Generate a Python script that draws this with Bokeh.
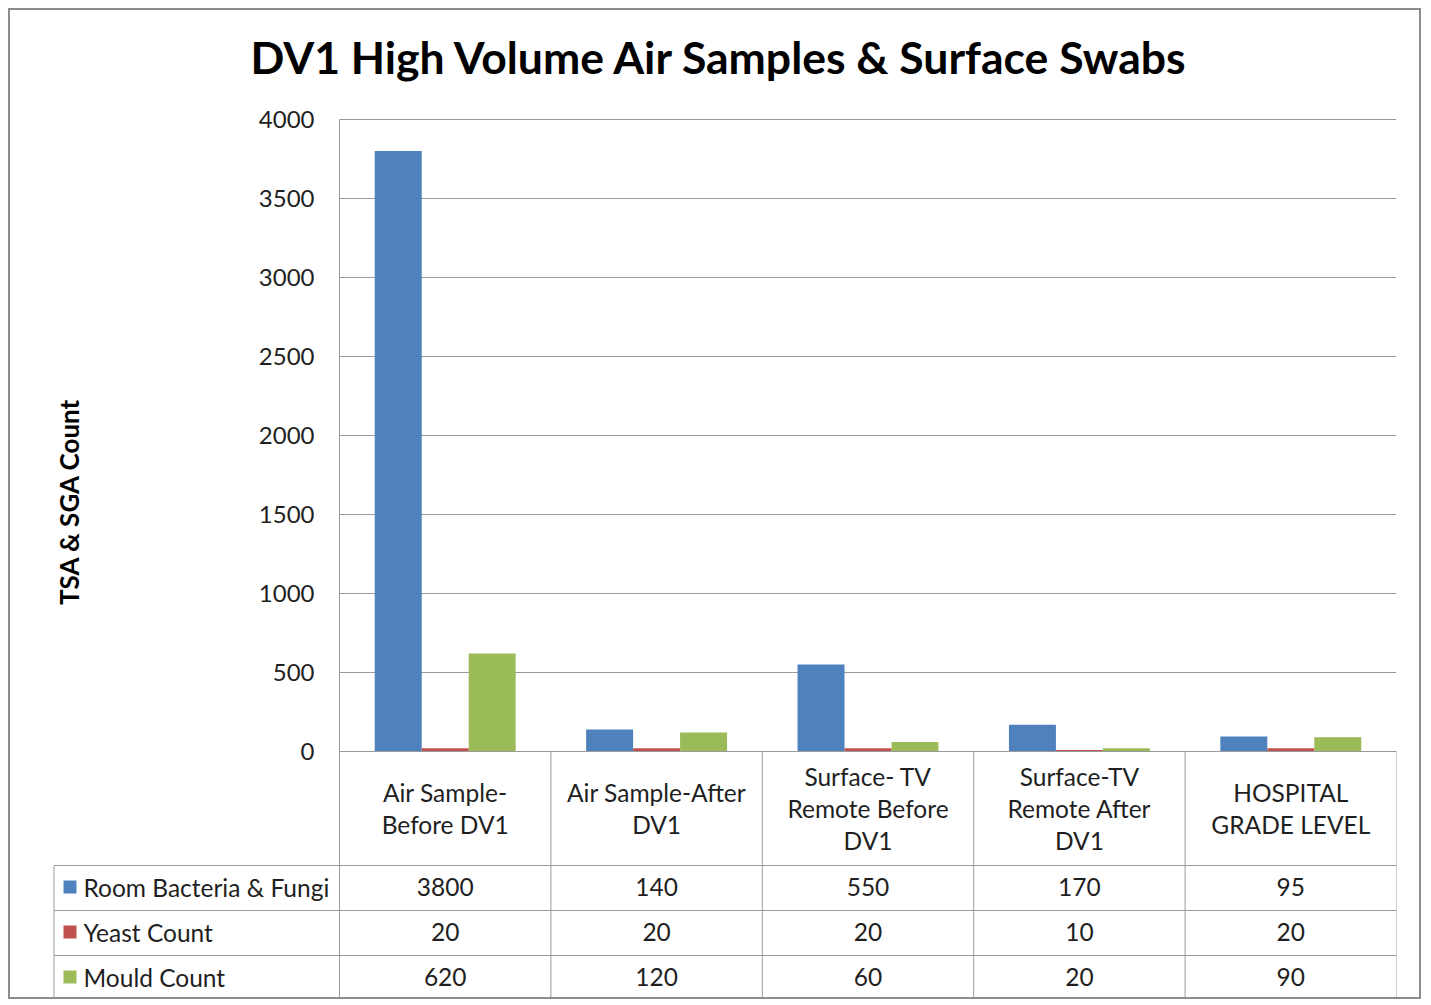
import numpy as np
from bokeh.plotting import figure
from bokeh.models import Range1d, FixedTicker, ColumnDataSource
from bokeh.transform import dodge
from bokeh.embed import file_html
from bokeh.resources import INLINE
from bokeh.core.properties import value

# ---------------- data ----------------
categories = ["Air Sample-\nBefore DV1", "Air Sample-After\nDV1",
              "Surface- TV\nRemote Before\nDV1", "Surface-TV\nRemote After\nDV1",
              "HOSPITAL\nGRADE LEVEL"]
series_names = ["Room Bacteria & Fungi", "Yeast Count", "Mould Count"]
bacteria = [3800, 140, 550, 170, 95]
yeast = [20, 20, 20, 10, 20]
mould = [620, 120, 60, 20, 90]
y_ticks = [0, 500, 1000, 1500, 2000, 2500, 3000, 3500, 4000]

# ---------------- style / layout ----------------
colors = ["#4F81BD", "#C0504D", "#9BBB59"]
FONT = "Lato"
TXT = "#1f1f1f"
GRID = "#9a9a9a"
TICK_FS = "24px"
TAB_FS = "24.5px"

n = len(categories)
series = [bacteria, yeast, mould]
x_pos = np.arange(n) + 0.5
src = ColumnDataSource(dict(x=x_pos, s0=bacteria, s1=yeast, s2=mould))

# pixel geometry of the reference (layout only)
Y0_PX, Y4000_PX = 751, 119
U = 4000.0 / (Y0_PX - Y4000_PX)      # value units per pixel
CAT_W = (1396 - 339) / n
FRAME_TOP_PX, FRAME_BOT_PX, FRAME_LEFT_PX = 100, 998, 18
HEAD, ROW = 114, 45


def ty(px):
    return -(px - Y0_PX) * U


def tx(px):
    return (px - 339) / CAT_W


p = figure(x_range=Range1d(tx(FRAME_LEFT_PX), n),
           y_range=Range1d(ty(FRAME_BOT_PX), ty(FRAME_TOP_PX)),
           width=1413, height=991, x_axis_location=None,
           min_border_left=FRAME_LEFT_PX - 10, min_border_right=27, min_border_bottom=3,
           min_border_top=FRAME_TOP_PX - 10,
           toolbar_location=None, output_backend="svg",
           title="DV1 High Volume Air Samples & Surface Swabs")
p.title.align = "left"
p.title.offset = 250 - FRAME_LEFT_PX
p.title.text_font = FONT
p.title.text_font_size = "44.5px"
p.title.text_font_style = "bold"
p.title.text_color = "#000000"
p.title.standoff = 35
p.outline_line_color = None
p.background_fill_color = "white"
p.border_fill_color = "white"
p.styles = {"border": "2px solid #8c8c8c", "margin": "8px 0 0 8px", "background": "white"}

# gridlines (only across the plot area)
p.xgrid.grid_line_color = None
p.ygrid.ticker = FixedTicker(ticks=y_ticks)
p.ygrid.grid_line_color = GRID
try:
    p.ygrid.cross_bounds = (0, n)
    p.ygrid.bounds = (0, 4000)
except AttributeError:
    p.ygrid.grid_line_color = None
    p.segment(x0=[0] * len(y_ticks), y0=y_ticks, x1=[n] * len(y_ticks), y1=y_ticks,
              line_color=GRID, line_width=1)

# bars
bw = 1 / 4.5
for k, name in enumerate(series_names):
    p.vbar(x=dodge("x", (k - 1) * bw), top=f"s{k}", bottom=0, width=bw,
           source=src, fill_color=colors[k], line_color=None)

# value axis
yax = p.yaxis[0]
yax.fixed_location = 0
yax.bounds = (ty(883), 4000)
yax.ticker = FixedTicker(ticks=y_ticks)
yax.axis_line_color = GRID
yax.major_tick_line_color = None
yax.minor_tick_line_color = None
yax.major_label_standoff = 19
yax.major_label_text_font = FONT
yax.major_label_text_font_size = TICK_FS
yax.major_label_text_color = TXT
yax.axis_label = "TSA & SGA Count"
yax.axis_label_text_font = FONT
yax.axis_label_text_font_style = "bold"
yax.axis_label_text_font_size = "26px"
yax.axis_label_text_color = "#000000"
yax.axis_label_standoff = 171

# ---------------- data table ----------------
tleft = tx(53.5)
hy = [0, ty(Y0_PX + HEAD), ty(Y0_PX + HEAD + ROW), ty(Y0_PX + HEAD + 2 * ROW), ty(997.5)]
hx0 = [0] + [tleft] * 4
p.segment(x0=hx0, y0=hy, x1=[n] * 5, y1=hy, line_color=GRID, line_width=1)
vx = list(range(n + 1)) + [tleft]
vy0 = [0] * (n + 1) + [hy[1]]
p.segment(x0=vx, y0=vy0, x1=vx, y1=[hy[-1]] * (n + 2), line_color=GRID, line_width=1)

rows_y = [ty(Y0_PX + HEAD + ROW * (i + 0.5) - 1) for i in range(3)]
p.text(x=x_pos, y=[ty(Y0_PX + HEAD / 2)] * n, text=categories, text_align="center",
       text_baseline="middle", text_font=value(FONT), text_font_size=TAB_FS,
       text_color=TXT, text_line_height=1.1)
for k, vals in enumerate(series):
    p.text(x=x_pos, y=[rows_y[k]] * n, text=[str(v) for v in vals], text_align="center",
           text_baseline="middle", text_font=value(FONT), text_font_size=TAB_FS, text_color=TXT)

p.scatter(x=[tx(69.5)] * 3, y=rows_y, marker="square", size=13, fill_color=colors,
          line_color=None)
p.text(x=[tx(83)] * 3, y=rows_y, text=series_names, text_align="left", text_baseline="middle",
       text_font=value(FONT), text_font_size=TAB_FS, text_color=TXT)

open("out.html", "w").write(file_html(p, INLINE))
